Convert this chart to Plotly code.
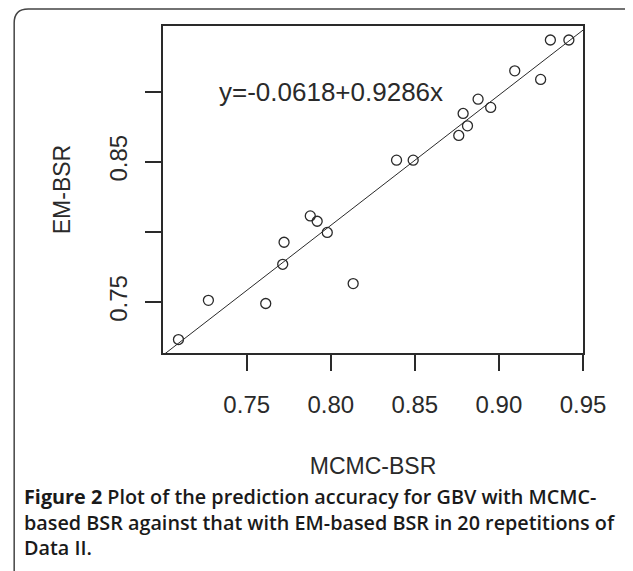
import plotly.graph_objects as go

# ---- data ----
mcmc_bsr = [0.7094, 0.7272, 0.7613, 0.7714, 0.7722, 0.7878, 0.7919, 0.7979, 0.8133, 0.8391,
            0.8490, 0.8761, 0.8813, 0.8787, 0.8876, 0.8951, 0.9094, 0.9248, 0.9306, 0.9416]
em_bsr = [0.7232, 0.7512, 0.7489, 0.7769, 0.7926, 0.8114, 0.8076, 0.7996, 0.7631, 0.8512,
          0.8512, 0.8688, 0.8757, 0.8845, 0.8947, 0.8888, 0.9149, 0.9088, 0.9369, 0.9369]
fit_intercept = 0.0618
fit_slope = 0.9286
equation_text = "y=-0.0618+0.9286x"
x_ticks = [0.75, 0.80, 0.85, 0.90, 0.95]
x_tick_labels = ["0.75", "0.80", "0.85", "0.90", "0.95"]
y_ticks = [0.75, 0.80, 0.85, 0.90]
y_tick_labels = ["0.75", "", "0.85", ""]
x_title = "MCMC-BSR"
y_title = "EM-BSR"
caption_lines = [
    "<b>Figure 2</b> Plot of the prediction accuracy for GBV with MCMC-",
    "based BSR against that with EM-based BSR in 20 repetitions of",
    "Data II.",
]

# ---- layout geometry (page is drawn with an 8px body margin) ----
OFF = 8
PAGE_W, PAGE_H = 633, 571
W, H = PAGE_W - OFF, PAGE_H - OFF
plot_left, plot_right, plot_top, plot_bottom = 163, 583.5, 26, 352.7  # page px
ML = plot_left - OFF
MT = plot_top - OFF
MR = PAGE_W - plot_right
MB = PAGE_H - plot_bottom
PW, PH = W - ML - MR, H - MT - MB
x_range = [0.7002, 0.9500]
y_range = [0.7136, 0.9469]

def px(x):  # page px -> paper
    return (x - plot_left) / PW

def py(y):
    return (plot_bottom - y) / PH

ink = "#2a2a2a"
font_main = "Liberation Sans, Arial, sans-serif"

fig = go.Figure()

line_x = [x_range[0], x_range[1]]
line_y = [fit_intercept + fit_slope * v for v in line_x]
fig.add_trace(go.Scatter(x=line_x, y=line_y, mode="lines",
                         line=dict(color=ink, width=1), hoverinfo="skip",
                         showlegend=False))

fig.add_trace(go.Scatter(x=mcmc_bsr, y=em_bsr, mode="markers",
                         marker=dict(symbol="circle-open", size=10,
                                     line=dict(color=ink, width=1.3), color=ink),
                         showlegend=False))

fig.add_annotation(x=0.80, y=0.90, xref="x", yref="y", text=equation_text,
                   showarrow=False, font=dict(family=font_main, size=26, color=ink),
                   xanchor="center", yanchor="middle")

axis_common = dict(showline=True, linewidth=1.5, linecolor=ink, mirror=True,
                   ticks="outside", ticklen=16, tickwidth=1.5, tickcolor=ink,
                   showgrid=False, zeroline=False,
                   tickfont=dict(family=font_main, size=24, color=ink),
                   automargin=False)

fig.update_xaxes(range=x_range, tickvals=x_ticks, ticktext=x_tick_labels,
                 title=dict(text=x_title, standoff=41,
                            font=dict(family=font_main, size=23, color=ink)),
                 ticklabelstandoff=13, **axis_common)
fig.update_yaxes(range=y_range, tickvals=y_ticks, ticktext=y_tick_labels,
                 tickangle=-90,
                 title=dict(text=y_title, standoff=28,
                            font=dict(family=font_main, size=23, color=ink)),
                 ticklabelstandoff=9, **axis_common)

# rounded frame around the whole figure
r = 14
x0, y0 = 14, 9
x1, y1 = PAGE_W + 20, PAGE_H + 20
path = (f"M {px(x0)},{py(y1)} L {px(x0)},{py(y0 + r)} "
        f"Q {px(x0)},{py(y0)} {px(x0 + r)},{py(y0)} "
        f"L {px(x1 - r)},{py(y0)} Q {px(x1)},{py(y0)} {px(x1)},{py(y0 + r)} "
        f"L {px(x1)},{py(y1)}")
fig.add_shape(type="path", path=path, xref="paper", yref="paper",
              line=dict(color="#444444", width=1.5))

# caption (one multi-line text block)
fig.add_annotation(x=px(22), y=py(521.5), xref="paper", yref="paper",
                   text="<br>".join(caption_lines),
                   showarrow=False, xanchor="left", yanchor="middle", align="left",
                   font=dict(family="Open Sans, Noto Sans, sans-serif", size=19.8,
                             weight=600, color="#1a1a1a"))

fig.update_layout(width=W, height=H, margin=dict(l=ML, r=MR, t=MT, b=MB),
                  paper_bgcolor="white", plot_bgcolor="white")

fig.write_html("out.html")
